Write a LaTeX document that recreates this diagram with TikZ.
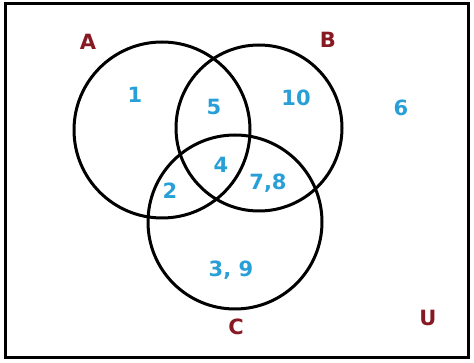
\documentclass[tikz,border=0pt]{standalone}
\usepackage{fontspec}
\setmainfont{DejaVu Sans}
\usepackage{tikz}
\usetikzlibrary{positioning}
\definecolor{setred}{RGB}{135,25,35}
\definecolor{elemblue}{RGB}{40,160,215}
\tikzset{
  setcircle/.style={circle, draw=black, line width=3pt, inner sep=0pt},
  setname/.style={font=\fontsize{21}{22}\selectfont\bfseries, text=setred},
  elem/.style={font=\fontsize{21}{22}\selectfont\bfseries, text=elemblue},
}
\begin{document}
\begin{tikzpicture}[x=1pt, y=-1pt]
\useasboundingbox (0,0) rectangle (474,363);
\draw[line width=3pt] (5,4) rectangle (468,358);
\node[setcircle, minimum size=176pt] (circA) at (162,130) {};
\node[setcircle, minimum size=166pt] (circB) at (259,128) {};
\node[setcircle, minimum size=174pt] (circC) at (235,222) {};
\node[setname] (labA) at (88,42) {A};
\node[setname] (labB) at (328,40) {B};
\node[setname] (labC) at (236,327) {C};
\node[setname] (labU) at (428,318) {U};
\node[elem] (e1) at (135,95) {1};
\node[elem] (e5) at (214,107) {5};
\node[elem] (e10) at (296,98) {10};
\node[elem] (e6) at (401,108) {6};
\node[elem] (e4) at (221,165) {4};
\node[elem] (e2) at (170,191) {2};
\node[elem] (e78) at (268,183) {7,8};
\node[elem] (e39) at (231,270) {3, 9};
\end{tikzpicture}
\end{document}
